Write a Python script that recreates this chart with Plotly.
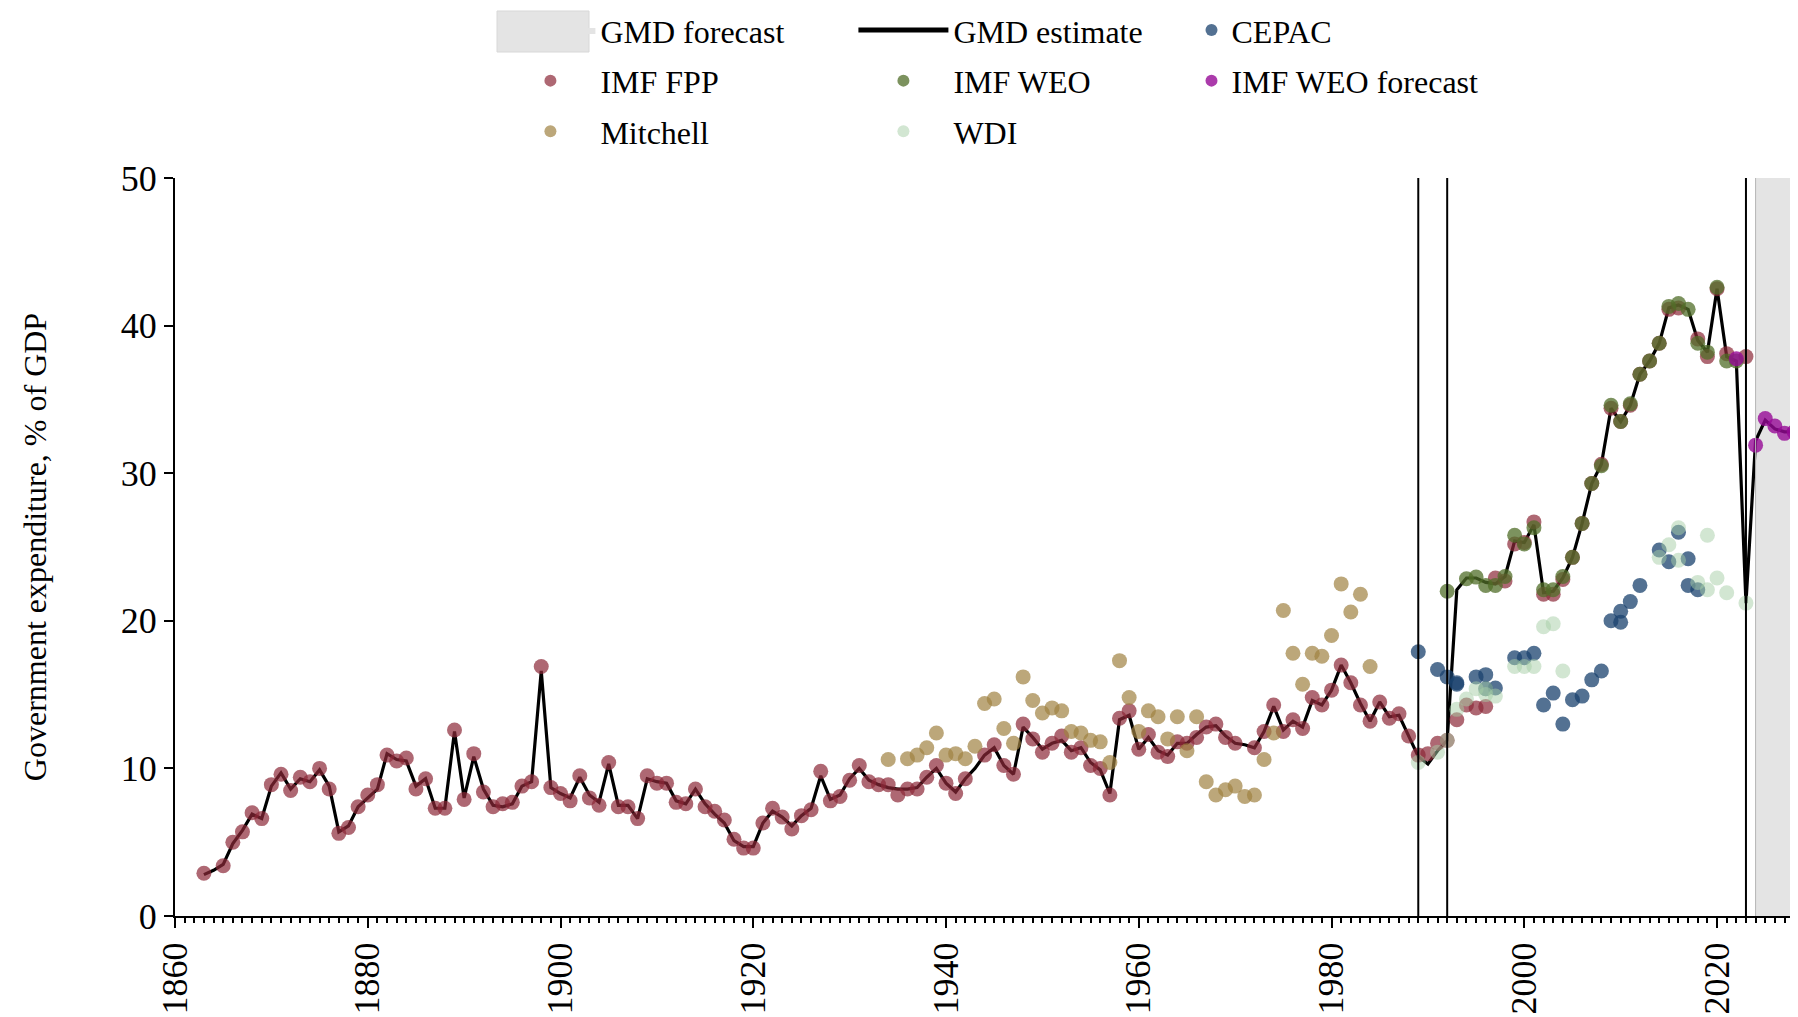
import plotly.graph_objects as go

# ---------------- data ----------------
# IMF FPP
fpp_years = [1863, 1865, 1866, 1867, 1868, 1869, 1870, 1871, 1872, 1873, 1874, 1875, 1876, 1877, 1878, 1879,
             1880, 1881, 1882, 1883, 1884, 1885, 1886, 1887, 1888, 1889, 1890, 1891, 1892, 1893, 1894, 1895,
             1896, 1897, 1898, 1899, 1900, 1901, 1902, 1903, 1904, 1905, 1906, 1907, 1908, 1909, 1910, 1911,
             1912, 1913, 1914, 1915, 1916, 1917, 1918, 1919, 1920, 1921, 1922, 1923, 1924, 1925, 1926, 1927,
             1928, 1929, 1930, 1931, 1932, 1933, 1934, 1935, 1936, 1937, 1938, 1939, 1940, 1941, 1942, 1944,
             1945, 1946, 1947, 1948, 1949, 1950, 1951, 1952, 1953, 1954, 1955, 1956, 1957, 1958, 1959, 1960,
             1961, 1962, 1963, 1964, 1965, 1966, 1967, 1968, 1969, 1970, 1972, 1973, 1974, 1975, 1976, 1977,
             1978, 1979, 1980, 1981, 1982, 1983, 1984, 1985, 1986, 1987, 1988, 1989, 1990, 1991, 1992, 1993,
             1994, 1995, 1996, 1997, 1998, 1999, 2000, 2001, 2002, 2003, 2004, 2005, 2006, 2007, 2008, 2009,
             2010, 2011, 2012, 2013, 2014, 2015, 2016, 2018, 2019, 2020, 2021, 2023]
fpp_values = [2.9, 3.4, 5.0, 5.7, 7.0, 6.6, 8.9, 9.6, 8.5, 9.4, 9.1, 10.0, 8.6, 5.6, 6.0, 7.4,
              8.2, 8.9, 10.9, 10.5, 10.7, 8.6, 9.3, 7.3, 7.3, 12.6, 7.9, 11.0, 8.4, 7.4, 7.6, 7.7,
              8.8, 9.1, 16.9, 8.7, 8.3, 7.8, 9.5, 8.0, 7.5, 10.4, 7.4, 7.4, 6.6, 9.5, 9.0, 9.0,
              7.7, 7.6, 8.6, 7.4, 7.1, 6.5, 5.2, 4.6, 4.6, 6.3, 7.3, 6.7, 5.9, 6.8, 7.2, 9.8,
              7.8, 8.1, 9.2, 10.2, 9.1, 8.9, 8.9, 8.2, 8.6, 8.6, 9.4, 10.2, 9.0, 8.3, 9.3, 10.9,
              11.6, 10.2, 9.6, 13.0, 12.0, 11.1, 11.7, 12.2, 11.1, 11.4, 10.2, 10.0, 8.2, 13.4, 13.9, 11.3,
              12.3, 11.1, 10.8, 11.8, 11.7, 12.1, 12.8, 13.0, 12.1, 11.7, 11.4, 12.5, 14.3, 12.5, 13.3, 12.7,
              14.8, 14.3, 15.3, 17.0, 15.8, 14.3, 13.2, 14.5, 13.4, 13.7, 12.2, 10.9, 11.0, 11.7, 11.9, 13.3,
              14.3, 14.1, 14.2, 22.9, 22.7, 25.2, 25.3, 26.7, 21.8, 21.8, 22.8, 24.3, 26.6, 29.3, 30.6, 34.4,
              33.5, 34.6, 36.7, 37.6, 38.8, 41.1, 41.2, 39.1, 37.9, 42.5, 38.1, 37.9]

# Mitchell
mitchell_years = [1934, 1936, 1937, 1938, 1939, 1940, 1941, 1942, 1943, 1944, 1945, 1946, 1947, 1948, 1949,
                  1950, 1951, 1952, 1953, 1954, 1955, 1956, 1957, 1958, 1959, 1960, 1961, 1962, 1963, 1964,
                  1965, 1966, 1967, 1968, 1969, 1970, 1971, 1972, 1973, 1974, 1975, 1976, 1977, 1978, 1979,
                  1980, 1981, 1982, 1983, 1984]
mitchell_values = [10.6, 10.65, 10.9, 11.4, 12.4, 10.9, 11.0, 10.65, 11.5, 14.4, 14.7, 12.7, 11.7, 16.2, 14.6,
                   13.75, 14.1, 13.9, 12.5, 12.4, 11.9, 11.8, 10.4, 17.3, 14.8, 12.5, 13.9, 13.5, 12.0, 13.5,
                   11.2, 13.5, 9.1, 8.2, 8.55, 8.8, 8.1, 8.2, 10.6, 12.4, 20.7, 17.8, 15.7, 17.8, 17.6,
                   19.0, 22.5, 20.6, 21.8, 16.9]

# CEPAC
cepac_years = [1989, 1991, 1992, 1993, 1993, 1995, 1996, 1996, 1997, 1999, 2000, 2001, 2002, 2003, 2004,
               2005, 2006, 2007, 2008, 2009, 2010, 2010, 2011, 2012, 2014, 2015, 2016, 2017, 2017, 2018]
cepac_values = [17.9, 16.7, 16.2, 15.7, 15.8, 16.2, 16.35, 15.4, 15.45, 17.5, 17.5, 17.8, 14.3, 15.1, 13.0,
                14.65, 14.9, 16.0, 16.6, 20.0, 20.65, 19.9, 21.3, 22.4, 24.8, 24.0, 26.0, 24.2, 22.4, 22.1]

# IMF WEO
weo_years = [1992, 1994, 1995, 1996, 1997, 1998, 1999, 2000, 2001, 2002, 2003, 2004, 2005, 2006, 2007,
             2008, 2009, 2010, 2011, 2012, 2013, 2014, 2015, 2016, 2017, 2018, 2019, 2020, 2021, 2022]
weo_values = [22.0, 22.85, 22.96, 22.4, 22.4, 23.0, 25.8, 25.2, 26.3, 22.1, 22.1, 23.0, 24.3, 26.6, 29.3,
              30.5, 34.6, 33.5, 34.7, 36.7, 37.6, 38.8, 41.3, 41.5, 41.1, 38.8, 38.2, 42.6, 37.6, 37.6]

# IMF WEO forecast
weo_fc_years = [2022, 2024, 2025, 2026, 2027, 2028]
weo_fc_values = [37.75, 31.9, 33.7, 33.2, 32.7, 32.8]

# WDI
wdi_years = [1989, 1991, 1992, 1993, 1994, 1995, 1996, 1996, 1997, 1999, 2000, 2001, 2002, 2003, 2004,
             2014, 2015, 2016, 2016, 2018, 2019, 2019, 2020, 2021, 2023]
wdi_values = [10.4, 11.1, 11.9, 14.0, 14.7, 15.4, 15.4, 15.0, 14.9, 16.9, 16.9, 16.9, 19.6, 19.8, 16.6,
              24.3, 25.15, 26.3, 24.1, 22.6, 22.1, 25.8, 22.9, 21.9, 21.2]

# GMD estimate (line)
gmd_years = list(range(1863, 2030))
gmd_values = [2.8, 3.1, 3.5, 4.9, 5.8, 6.9, 6.6, 8.8, 9.7, 8.6, 9.3, 9.1, 9.9, 8.8, 5.7, 6.1, 7.4,
              8.0, 8.6, 11.0, 10.6, 10.5, 8.8, 9.3, 7.3, 7.3, 12.5, 8.0, 10.8, 8.6, 7.5, 7.4, 7.6,
              8.8, 9.1, 16.6, 8.7, 8.3, 8.0, 9.4, 8.2, 7.7, 10.3, 7.5, 7.5, 6.6, 9.3, 9.1, 9.0,
              7.8, 7.6, 8.6, 7.6, 6.9, 6.3, 5.1, 4.7, 4.7, 6.3, 7.1, 6.7, 6.1, 6.8, 7.3, 9.5,
              7.9, 8.2, 9.3, 10.0, 9.2, 8.9, 8.7, 8.6, 8.6, 8.7, 9.4, 10.0, 9.0, 8.4, 9.3, 10.0,
              10.9, 11.4, 10.2, 9.6, 12.8, 12.1, 11.3, 11.7, 11.9, 11.2, 11.4, 10.4, 9.9, 8.3, 13.3,
              13.6, 11.3, 12.1, 11.2, 10.9, 11.7, 11.7, 12.3, 12.8, 12.9, 12.2, 11.7, 11.6, 11.4, 12.5,
              14.2, 12.6, 13.2, 12.8, 14.6, 14.3, 15.3, 17.0, 15.8, 14.4, 13.2, 14.5, 13.5, 13.6, 12.2,
              10.8, 10.3, 11.2, 11.9, 22.1, 22.9, 22.9, 22.6, 22.5, 23.0, 25.4, 25.3, 26.5, 21.9, 22.0,
              22.9, 24.3, 26.6, 29.3, 30.6, 34.4, 33.5, 34.6, 36.7, 37.6, 38.8, 41.2, 41.4, 41.1, 39.0,
              38.2, 42.5, 37.9, 37.6, 21.2, 32.2, 33.6, 33.0, 32.8, 32.8, 32.8]

break_years = [1989, 1992, 2023]
forecast_start = 2024
x_range = [1860, 2028.4]
y_range = [0, 50]

SERIF = 'Liberation Serif'
DOT = 15
BAND = '#e4e4e4'

fig = go.Figure()

# grey forecast band
fig.add_trace(go.Scatter(
    x=[forecast_start, 2040, 2040, forecast_start],
    y=[y_range[0], y_range[0], y_range[1], y_range[1]],
    fill='toself', fillcolor=BAND, mode='lines', line=dict(width=0),
    name='GMD forecast', legend='legend', legendgroup='a', hoverinfo='skip'))

fig.add_trace(go.Scatter(x=gmd_years, y=gmd_values, mode='lines', name='GMD estimate',
                         line=dict(color='black', width=3.2), legend='legend2', legendgroup='b'))

series = [
    ('IMF FPP', fpp_years, fpp_values, 'rgba(140,40,55,0.7)', 'legend'),
    ('Mitchell', mitchell_years, mitchell_values, 'rgba(160,130,65,0.7)', 'legend'),
    ('CEPAC', cepac_years, cepac_values, 'rgba(25,65,110,0.75)', 'legend3'),
    ('IMF WEO', weo_years, weo_values, 'rgba(80,110,40,0.75)', 'legend2'),
    ('WDI', wdi_years, wdi_values, 'rgba(165,205,165,0.5)', 'legend2'),
    ('IMF WEO forecast', weo_fc_years, weo_fc_values, 'rgba(150,10,150,0.8)', 'legend3'),
]
for name, xs, ys, col, leg in series:
    fig.add_trace(go.Scatter(x=xs, y=ys, mode='markers', name=name, legend=leg, legendgroup=name,
                             marker=dict(size=DOT, color=col, line=dict(width=0))))

for yr in break_years:
    fig.add_vline(x=yr, line_color='black', line_width=2)
fig.add_vline(x=forecast_start, line_color='#b5b5b5', line_width=1)

# wide grey key box next to "GMD forecast"
fig.add_shape(type='rect', xref='paper', yref='paper', x0=0.1984, x1=0.2551, y0=1.1707, y1=1.2263,
              fillcolor=BAND, line=dict(color='#d8d8d8', width=1), layer='above')

legend_common = dict(font=dict(family=SERIF, size=32, color='black'), bgcolor='rgba(0,0,0,0)',
                     xanchor='left', yanchor='top', itemsizing='constant', traceorder='grouped',
                     tracegroupgap=6)

# the page body has an 8px margin, so the figure is drawn 8px in from the window corner
fig.update_layout(
    width=1790, height=1009,
    margin=dict(l=167, r=0, t=170, b=101, autoexpand=False),
    plot_bgcolor='white', paper_bgcolor='white',
    font=dict(family=SERIF, size=36, color='black'),
    showlegend=True,
    legend=dict(x=0.2005, y=1.2375, itemwidth=90, **legend_common),
    legend2=dict(x=0.418, y=1.2375, itemwidth=90, **legend_common),
    legend3=dict(x=0.6263, y=1.2375, **legend_common),
    xaxis=dict(range=x_range, showgrid=False, zeroline=False, showline=True, linecolor='black',
               linewidth=2, ticks='outside', ticklen=10, tickwidth=2, tickcolor='black',
               tick0=1860, dtick=20, tickangle=-90, tickfont=dict(size=36),
               minor=dict(dtick=1, ticklen=5, tickwidth=1.5, tickcolor='black', ticks='outside')),
    yaxis=dict(range=y_range, showgrid=False, zeroline=False, showline=True, linecolor='black',
               linewidth=2, ticks='outside', ticklen=9, tickwidth=2, tickcolor='black',
               dtick=10, tickfont=dict(size=36),
               title=dict(text='Government expenditure, % of GDP', font=dict(size=32), standoff=65)),
)

fig.write_html('out.html')
